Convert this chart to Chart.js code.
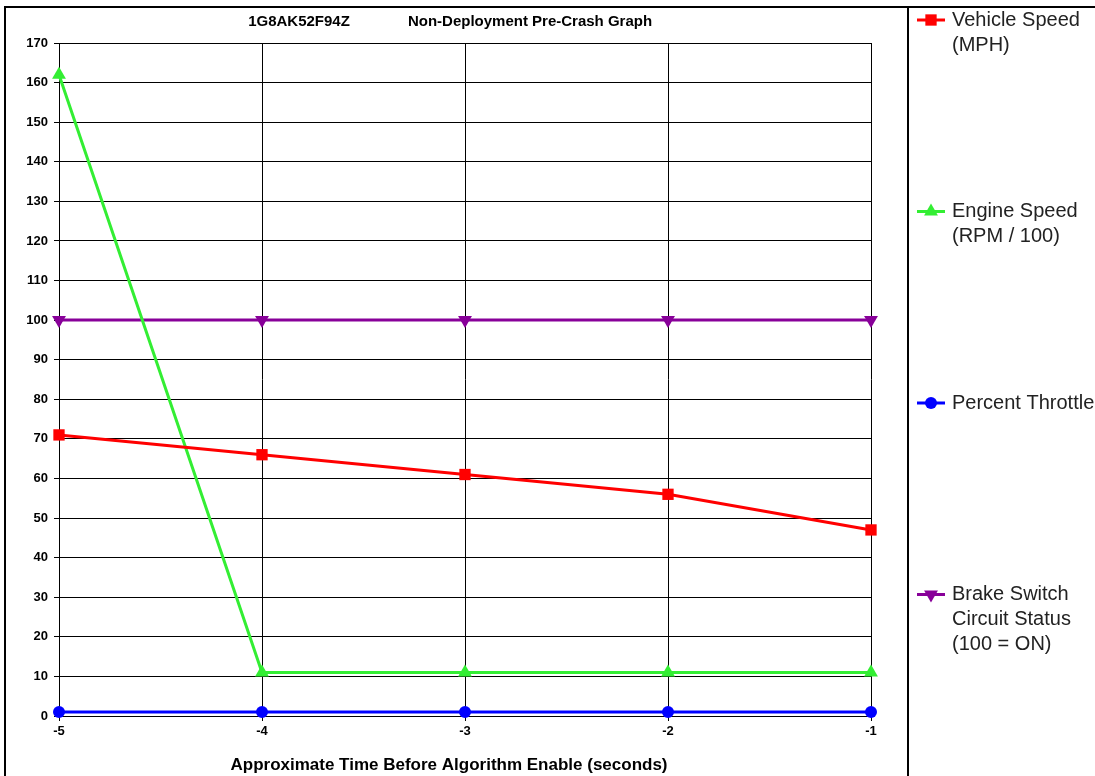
<!DOCTYPE html>
<html>
<head>
<meta charset="utf-8">
<style>
  html, body { margin: 0; padding: 0; background: #fff; }
  #wrap { width: 1095px; height: 776px; }
</style>
<script src="https://cdn.jsdelivr.net/npm/chart.js@4.4.1/dist/chart.umd.min.js"></script>
</head>
<body>
<div id="wrap"><canvas id="c" width="1095" height="776"></canvas></div>
<script>
// Seconds before algorithm enable
const times = [-5, -4, -3, -2, -1];
// Recorded pre-crash values
const vehicleSpeed = [71, 66, 61, 56, 47];
const engineSpeed = [162, 11, 11, 11, 11];
const percentThrottle = [1, 1, 1, 1, 1];
const brakeStatus = [100, 100, 100, 100, 100];
// Axis ticks
const yTicks = [0, 10, 20, 30, 40, 50, 60, 70, 80, 90, 100, 110, 120, 130, 140, 150, 160, 170];
const xTicks = [-5, -4, -3, -2, -1];

const vin = '1G8AK52F94Z';
const title = 'Non-Deployment Pre-Crash Graph';
const xTitle = 'Approximate Time Before Algorithm Enable (seconds)';

function pts(vals) { return times.map((t, i) => ({ x: t, y: vals[i] })); }

const series = [
  { label: ['Vehicle Speed', '(MPH)'], data: vehicleSpeed, color: '#ff0000', style: 'rect', rot: 0, r: 8 },
  { label: ['Engine Speed', '(RPM / 100)'], data: engineSpeed, color: '#33ee33', style: 'triangle', rot: 0, r: 8 },
  { label: ['Percent Throttle'], data: percentThrottle, color: '#0000ff', style: 'circle', rot: 0, r: 6 },
  { label: ['Brake Switch', 'Circuit Status', '(100 = ON)'], data: brakeStatus, color: '#880099', style: 'triangle', rot: 180, r: 8 }
];

const FONT = '"Liberation Sans", Arial, sans-serif';

// Frame, titles and the side legend
const decor = {
  id: 'decor',
  beforeDraw(chart) {
    const ctx = chart.ctx;
    ctx.save();
    ctx.fillStyle = '#fff';
    ctx.fillRect(0, 0, chart.width, chart.height);
    ctx.restore();
  },
  afterDraw(chart) {
    const ctx = chart.ctx;
    const a = chart.chartArea;
    ctx.save();
    // outer frame
    ctx.strokeStyle = '#000';
    ctx.lineWidth = 2;
    ctx.beginPath();
    ctx.moveTo(5, 776); ctx.lineTo(5, 7); ctx.lineTo(1095, 7);
    ctx.moveTo(908, 7); ctx.lineTo(908, 776);
    ctx.stroke();

    // titles
    ctx.fillStyle = '#000';
    ctx.font = 'bold 15px ' + FONT;
    ctx.textAlign = 'center';
    ctx.textBaseline = 'middle';
    ctx.fillText(vin, 299, 22);
    ctx.fillText(title, 530, 22);

    // x axis title
    ctx.font = 'bold 17px ' + FONT;
    ctx.fillText(xTitle, 449, 765);

    // legend
    ctx.textAlign = 'left';
    ctx.textBaseline = 'middle';
    ctx.font = '20px ' + FONT;
    series.forEach((s, i) => {
      const y = 20 + i * 191.5;
      ctx.strokeStyle = s.color;
      ctx.lineWidth = 3;
      ctx.beginPath();
      ctx.moveTo(917, y); ctx.lineTo(945, y);
      ctx.stroke();
      ctx.fillStyle = s.color;
      Chart.helpers.drawPoint(ctx, { pointStyle: s.style, radius: s.r, rotation: s.rot, borderWidth: 0 }, 931, y);
      ctx.fillStyle = '#222';
      s.label.forEach((line, j) => ctx.fillText(line, 952, y + j * 25));
    });
    ctx.restore();
  }
};

new Chart(document.getElementById('c'), {
  type: 'line',
  data: {
    datasets: series.map(s => ({
      label: s.label.join(' '),
      data: pts(s.data),
      borderColor: s.color,
      backgroundColor: s.color,
      borderWidth: 3,
      pointStyle: s.style,
      pointRotation: s.rot,
      pointRadius: s.r,
      pointBorderWidth: 0,
      tension: 0,
      clip: false
    }))
  },
  options: {
    responsive: false,
    animation: false,
    devicePixelRatio: 1,
    layout: { padding: { left: 0, top: 43, right: 224, bottom: 0 } },
    plugins: { legend: { display: false }, title: { display: false }, tooltip: { enabled: false } },
    scales: {
      x: {
        type: 'linear',
        min: -5, max: -1,
        afterBuildTicks(scale) { scale.ticks = xTicks.map(v => ({ value: v })); },
        afterFit(scale) { scale.height = 60; },
        grid: { color: '#000', lineWidth: 1, tickLength: 5, drawTicks: true },
        border: { color: '#000', width: 1 },
        ticks: {
          color: '#000',
          font: { family: FONT, size: 13, weight: 'bold' },
          padding: 3,
          maxRotation: 0,
          callback: v => String(v)
        }
      },
      y: {
        min: 0, max: 170,
        afterBuildTicks(scale) { scale.ticks = yTicks.map(v => ({ value: v })); },
        afterFit(scale) { scale.width = 59; },
        grid: { color: '#000', lineWidth: 1, tickLength: 5, drawTicks: true },
        border: { color: '#000', width: 1 },
        ticks: {
          color: '#000',
          font: { family: FONT, size: 13, weight: 'bold' },
          padding: 6
        }
      }
    }
  },
  plugins: [decor]
});
</script>
</body>
</html>
